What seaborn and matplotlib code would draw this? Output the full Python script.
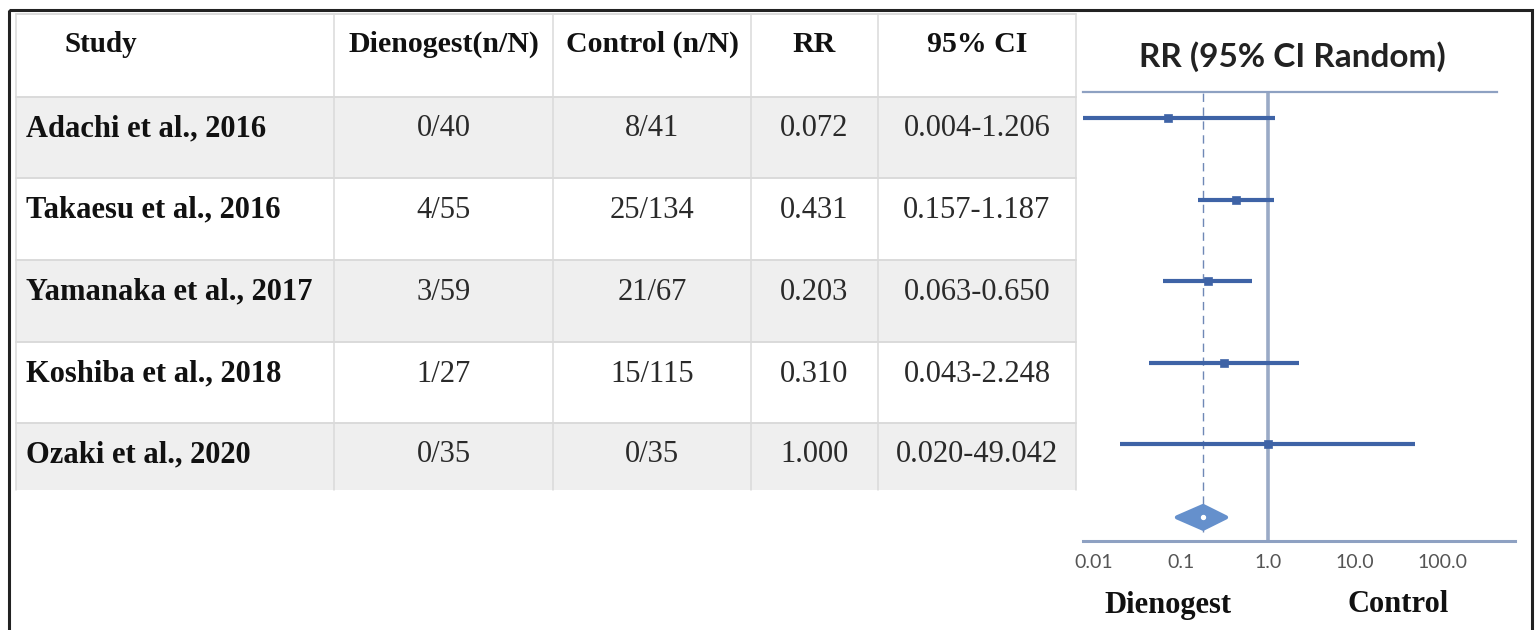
import numpy as np
import pandas as pd
import matplotlib
matplotlib.use("Agg")
import matplotlib.pyplot as plt
from matplotlib.patches import Rectangle
import seaborn as sns

# ---- data ----
studies = ["Adachi et al., 2016", "Takaesu et al., 2016", "Yamanaka et al., 2017",
           "Koshiba et al., 2018", "Ozaki et al., 2020"]
dienogest_nN = ["0/40", "4/55", "3/59", "1/27", "0/35"]
control_nN = ["8/41", "25/134", "21/67", "15/115", "0/35"]
rr = [0.072, 0.431, 0.203, 0.310, 1.000]
ci_low = [0.004, 0.157, 0.063, 0.043, 0.020]
ci_high = [1.206, 1.187, 0.650, 2.248, 49.042]
pooled_rr, pooled_low, pooled_high = 0.18, 0.09, 0.33
headers = ["Study", "Dienogest(n/N)", "Control (n/N)", "RR", "95% CI"]
tick_vals = [0.01, 0.1, 1.0, 10.0, 100.0]
tick_labels = ["0.01", "0.1", "1.0", "10.0", "100.0"]

df = pd.DataFrame({"study": studies, "rr": rr, "lo": ci_low, "hi": ci_high,
                   "pos": np.arange(len(studies))})

sns.set_theme(style="white")
plt.rcParams["font.family"] = ["Liberation Serif", "DejaVu Serif"]

W, H = 1538, 630
fig = plt.figure(figsize=(W / 100, H / 100), dpi=100)

# background axes in pixel coordinates for the table and frame
bg = fig.add_axes([0, 0, 1, 1])
bg.set_xlim(0, W)
bg.set_ylim(H, 0)
bg.axis("off")

bg.add_patch(Rectangle((9, 10), 1523, 640, fill=False, ec="#222222", lw=2.2))

col_edges = [16, 334, 553, 751, 878, 1076]
row_edges = [14, 97, 178, 260, 342, 423, 490]
grid_c = "#dadada"
shade = "#efefef"

for i in range(len(studies)):
    top, bot = row_edges[i + 1], row_edges[i + 2]
    if i % 2 == 0:
        bg.add_patch(Rectangle((col_edges[0], top), col_edges[-1] - col_edges[0],
                               bot - top, fc=shade, ec="none", zorder=0))
for y in row_edges[:-1]:
    bg.plot([col_edges[0], col_edges[-1]], [y, y], color=grid_c, lw=1.4, zorder=1)
for x in col_edges:
    bg.plot([x, x], [row_edges[0], row_edges[-1]], color=grid_c, lw=1.1, zorder=1)

fs = 22
bg.text(64, row_edges[0] + 30, headers[0], fontsize=21, fontweight="bold",
        ha="left", va="center", color="#111111")
for j, h in enumerate(headers[1:], start=1):
    cx = (col_edges[j] + col_edges[j + 1]) / 2
    bg.text(cx, row_edges[0] + 30, h, fontsize=21.5, fontweight="bold",
            ha="center", va="center", color="#111111")

for i in range(len(studies)):
    ty = row_edges[i + 1] + 32
    bg.text(26, ty, studies[i], fontsize=fs, fontweight="bold", ha="left",
            va="center", color="#111111")
    vals = [dienogest_nN[i], control_nN[i], f"{rr[i]:.3f}",
            f"{ci_low[i]:.3f}-{ci_high[i]:.3f}"]
    for j, v in enumerate(vals, start=1):
        cx = (col_edges[j] + col_edges[j + 1]) / 2
        bg.text(cx, ty, v, fontsize=fs, ha="center", va="center", color="#2a2a2a")

# forest plot axes
ax_l, ax_r, ax_t, ax_b = 1083, 1515, 92, 541
ax = fig.add_axes([ax_l / W, 1 - ax_b / H, (ax_r - ax_l) / W, (ax_b - ax_t) / H])
ax.set_facecolor("none")
ax.set_xscale("log")
ax.set_xlim(0.0075, 690)
ax.set_ylim(5.19, -0.32)

line_c = "#3e63a6"
ax.axvline(1.0, color="#9aaac6", lw=2.6, zorder=1)
ax.axvline(pooled_rr, ymin=0.02, color="#6f88b6", lw=1.0, ls=(0, (6, 4)), zorder=1)

ax.hlines(df["pos"], df["lo"], df["hi"], color=line_c, lw=3, zorder=2)
sns.scatterplot(data=df, x="rr", y="pos", marker="s", s=35, color=line_c,
                edgecolor=line_c, ax=ax, zorder=3, legend=False)

dy = 4.9
ax.fill([pooled_low, pooled_rr, pooled_high, pooled_rr],
        [dy, dy - 0.14, dy, dy + 0.14], color="#6590cc", ec="#6590cc", lw=3,
        joinstyle="round", zorder=3)
ax.scatter([pooled_rr], [dy], s=8, color="white", zorder=4)

for side in ["left", "right"]:
    ax.spines[side].set_visible(False)
ax.spines["top"].set_color("#8ea1c2")
ax.spines["top"].set_linewidth(1.6)
ax.spines["top"].set_bounds(0.0075, 430)
ax.spines["bottom"].set_color("#8ea1c2")
ax.spines["bottom"].set_linewidth(2.2)

ax.set_xticks(tick_vals)
ax.set_xticklabels(tick_labels, fontfamily="Lato", fontsize=14, color="#555555")
ax.minorticks_off()
ax.tick_params(axis="x", length=0, pad=9)
ax.set_yticks([])
ax.set_xlabel("")
ax.set_ylabel("")

bg.text(1292, 57, "RR (95% CI Random)", fontsize=24, fontweight="bold",
        family="Lato", ha="center", va="center", color="#222222")
bg.text(1168, 605, "Dienogest", fontsize=22, fontweight="bold", ha="center",
        va="center", color="#111111")
bg.text(1398, 605, "Control", fontsize=22, fontweight="bold", ha="center",
        va="center", color="#111111")

fig.savefig("out.png", dpi=100)
